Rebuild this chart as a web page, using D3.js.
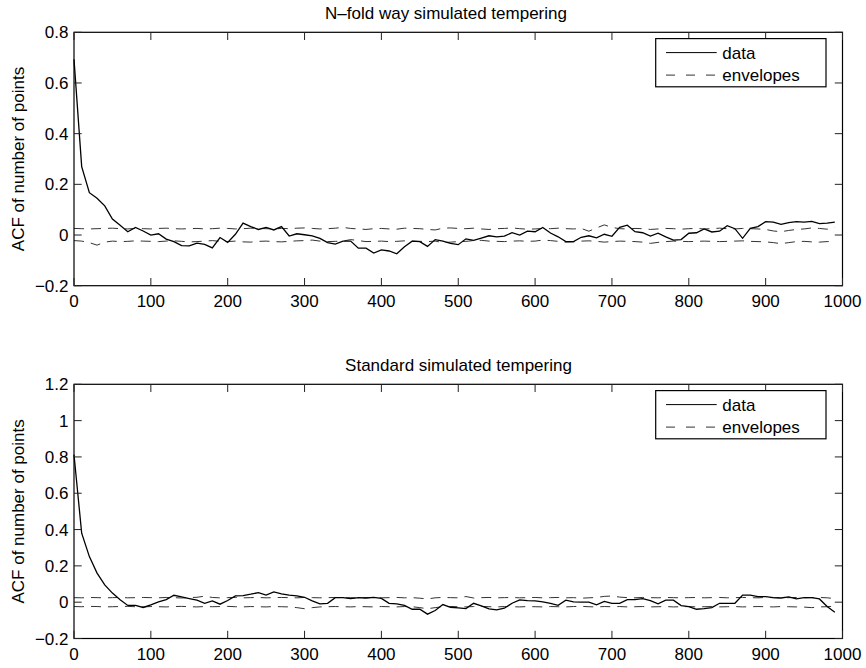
<!DOCTYPE html>
<html><head><meta charset="utf-8">
<script src="https://cdn.jsdelivr.net/npm/d3@7"></script>
<style>
body{margin:0;background:#fff;}
svg text{font-family:"Liberation Sans",Arial,Helvetica,sans-serif;font-size:17px;fill:#000;}
</style></head>
<body><svg id="c" width="866" height="668"></svg>
<script>
// ---- data (lags 0..990, step 10) ----
const lags = d3.range(0, 1000, 10);
const xTicks = [0,100,200,300,400,500,600,700,800,900,1000];
const yTicksTop = [-0.2,0,0.2,0.4,0.6,0.8];
const yTicksBottom = [-0.2,0,0.2,0.4,0.6,0.8,1,1.2];
const titles = ["N\u2013fold way simulated tempering","Standard simulated tempering"];
const yLabel = "ACF of number of points";
const legendLabels = ["data","envelopes"];

const dataTop = [0.693,0.270,0.167,0.145,0.115,0.063,0.039,0.013,0.030,0.016,
 0.000,0.005,-0.016,-0.026,-0.042,-0.043,-0.032,-0.037,-0.051,-0.010,
 -0.029,0.003,0.047,0.033,0.022,0.030,0.020,0.033,-0.004,0.005,
 0.001,-0.003,-0.013,-0.030,-0.036,-0.024,-0.024,-0.052,-0.052,-0.071,
 -0.059,-0.063,-0.074,-0.046,-0.024,-0.026,-0.045,-0.018,-0.024,-0.033,
 -0.038,-0.015,-0.021,-0.012,-0.003,-0.007,-0.004,0.009,0.000,0.015,
 0.013,0.030,0.008,-0.007,-0.026,-0.026,-0.009,-0.003,-0.011,0.003,
 -0.005,0.030,0.039,0.013,0.009,-0.004,0.007,-0.007,-0.020,-0.018,
 0.007,0.009,0.024,0.012,0.015,0.037,0.025,-0.013,0.026,0.033,
 0.053,0.051,0.042,0.049,0.053,0.051,0.054,0.045,0.047,0.051];
const envUpTop = [0.026,0.025,0.024,0.025,0.026,0.027,0.025,0.024,0.026,0.025,
 0.024,0.026,0.027,0.025,0.024,0.025,0.026,0.024,0.025,0.027,
 0.026,0.024,0.025,0.027,0.026,0.025,0.024,0.026,0.025,0.027,
 0.028,0.026,0.024,0.025,0.027,0.030,0.026,0.024,0.022,0.025,
 0.026,0.024,0.023,0.027,0.026,0.025,0.022,0.020,0.027,0.028,
 0.026,0.025,0.027,0.024,0.022,0.025,0.026,0.028,0.025,0.023,
 0.024,0.026,0.025,0.027,0.025,0.024,0.026,0.015,0.028,0.040,
 0.030,0.025,0.024,0.026,0.025,0.022,0.024,0.026,0.025,0.023,
 0.025,0.026,0.024,0.025,0.027,0.025,0.024,0.026,0.025,0.024,
 0.022,0.016,0.013,0.018,0.022,0.024,0.028,0.026,0.023,0.030];
const envLoTop = [-0.022,-0.024,-0.030,-0.040,-0.028,-0.024,-0.026,-0.025,-0.023,-0.024,
 -0.025,-0.026,-0.024,-0.023,-0.025,-0.027,-0.026,-0.024,-0.022,-0.025,
 -0.026,-0.024,-0.027,-0.028,-0.025,-0.024,-0.026,-0.027,-0.025,-0.023,
 -0.022,-0.020,-0.024,-0.026,-0.025,-0.024,-0.018,-0.022,-0.026,-0.025,
 -0.024,-0.026,-0.025,-0.023,-0.024,-0.025,-0.026,-0.024,-0.030,-0.028,
 -0.026,-0.025,-0.022,-0.021,-0.024,-0.025,-0.026,-0.024,-0.023,-0.025,
 -0.024,-0.020,-0.022,-0.025,-0.028,-0.027,-0.024,-0.023,-0.025,-0.028,
 -0.026,-0.024,-0.025,-0.026,-0.028,-0.033,-0.029,-0.026,-0.024,-0.025,
 -0.026,-0.025,-0.024,-0.025,-0.026,-0.025,-0.024,-0.023,-0.025,-0.026,
 -0.027,-0.030,-0.034,-0.030,-0.026,-0.025,-0.027,-0.028,-0.026,-0.025];

const dataBottom = [0.812,0.380,0.251,0.160,0.095,0.050,0.013,-0.018,-0.018,-0.029,
 -0.015,0.002,0.014,0.038,0.029,0.020,0.011,-0.006,0.007,-0.011,
 0.009,0.035,0.036,0.044,0.053,0.039,0.057,0.046,0.039,0.035,
 0.027,0.007,-0.009,-0.006,0.025,0.025,0.020,0.025,0.023,0.027,
 0.021,-0.006,-0.009,-0.018,-0.039,-0.039,-0.066,-0.046,-0.013,-0.028,
 -0.031,-0.035,-0.006,-0.020,-0.037,-0.042,-0.033,-0.006,0.013,0.009,
 0.007,0.002,-0.006,-0.017,0.011,0.002,0.000,0.000,-0.015,0.004,
 -0.006,-0.006,0.014,0.014,0.020,0.009,-0.009,0.011,0.011,-0.019,
 -0.024,-0.039,-0.035,-0.030,-0.006,-0.006,-0.006,0.039,0.039,0.031,
 0.031,0.025,0.023,0.029,0.018,0.025,0.025,0.018,-0.024,-0.055];
const envUpBottom = [0.025,0.024,0.026,0.025,0.024,0.025,0.026,0.024,0.025,0.026,
 0.025,0.024,0.026,0.025,0.023,0.025,0.027,0.033,0.026,0.024,
 0.025,0.026,0.024,0.025,0.026,0.024,0.025,0.026,0.025,0.024,
 0.026,0.025,0.024,0.025,0.026,0.024,0.025,0.023,0.025,0.026,
 0.024,0.025,0.026,0.024,0.025,0.022,0.018,0.024,0.026,0.025,
 0.024,0.031,0.023,0.025,0.026,0.024,0.025,0.026,0.024,0.025,
 0.026,0.024,0.025,0.026,0.024,0.025,0.022,0.024,0.026,0.032,
 0.034,0.028,0.025,0.024,0.026,0.025,0.024,0.026,0.025,0.024,
 0.025,0.026,0.024,0.025,0.026,0.024,0.025,0.026,0.025,0.024,
 0.026,0.025,0.024,0.025,0.026,0.024,0.025,0.026,0.024,0.020];
const envLoBottom = [-0.024,-0.025,-0.023,-0.024,-0.026,-0.025,-0.024,-0.023,-0.025,-0.026,
 -0.024,-0.025,-0.026,-0.024,-0.023,-0.025,-0.026,-0.024,-0.025,-0.024,
 -0.023,-0.025,-0.026,-0.024,-0.025,-0.026,-0.024,-0.025,-0.026,-0.030,
 -0.036,-0.030,-0.026,-0.025,-0.024,-0.025,-0.026,-0.024,-0.025,-0.026,
 -0.024,-0.025,-0.026,-0.024,-0.025,-0.030,-0.036,-0.030,-0.025,-0.024,
 -0.025,-0.026,-0.024,-0.023,-0.025,-0.026,-0.024,-0.025,-0.026,-0.024,
 -0.025,-0.026,-0.024,-0.025,-0.026,-0.024,-0.023,-0.025,-0.026,-0.024,
 -0.025,-0.024,-0.026,-0.025,-0.024,-0.026,-0.025,-0.024,-0.026,-0.025,
 -0.024,-0.026,-0.025,-0.024,-0.026,-0.025,-0.024,-0.026,-0.025,-0.024,
 -0.025,-0.026,-0.024,-0.025,-0.026,-0.027,-0.030,-0.026,-0.025,-0.022];

// ---- drawing ----
const svg = d3.select("#c");
const L = 74, R = 842.5, TL = 7.7;
const fmt = v => (v < 0 ? "\u2212" : "") + d3.format("~g")(Math.abs(v));

function panel(top, bottom, yDomain, yTicks, title, titleX, data, up, lo) {
  const x = d3.scaleLinear().domain([0,1000]).range([L,R]);
  const y = d3.scaleLinear().domain(yDomain).range([bottom,top]);
  const g = svg.append("g");
  const line = d3.line().x((d,i)=>x(lags[i])).y(d=>y(d));

  // envelopes
  [up, lo].forEach(arr => g.append("path").attr("d", line(arr))
    .attr("fill","none").attr("stroke","#333").attr("stroke-width",1)
    .attr("stroke-dasharray","10,7"));
  // data
  g.append("path").attr("d", line(data)).attr("fill","none")
    .attr("stroke","#000").attr("stroke-width",1.3);

  // box
  g.append("rect").attr("x",L).attr("y",top).attr("width",R-L).attr("height",bottom-top)
    .attr("fill","none").attr("stroke","#000").attr("stroke-width",1.2);

  // ticks inward on all four sides
  xTicks.forEach(t => {
    const xx = x(t);
    g.append("line").attr("x1",xx).attr("x2",xx).attr("y1",bottom).attr("y2",bottom-TL).attr("stroke","#222");
    g.append("line").attr("x1",xx).attr("x2",xx).attr("y1",top).attr("y2",top+TL).attr("stroke","#222");
    g.append("text").attr("x",xx).attr("y",bottom+21).attr("text-anchor","middle").text(fmt(t));
  });
  yTicks.forEach(t => {
    const yy = y(t);
    g.append("line").attr("x1",L).attr("x2",L+TL).attr("y1",yy).attr("y2",yy).attr("stroke","#222");
    g.append("line").attr("x1",R).attr("x2",R-TL).attr("y1",yy).attr("y2",yy).attr("stroke","#222");
    g.append("text").attr("x",68.5).attr("y",yy+6).attr("text-anchor","end").text(fmt(t));
  });

  // title
  g.append("text").attr("x",titleX).attr("y",top-13).attr("text-anchor","middle").text(title);
  // y label
  g.append("text").attr("transform",`translate(24,${(top+bottom)/2}) rotate(-90)`)
    .attr("text-anchor","middle").text(yLabel);

  // legend
  const lx0 = 655.7, lx1 = 826, ly0 = top+6.3, ly1 = top+54.5;
  g.append("rect").attr("x",lx0).attr("y",ly0).attr("width",lx1-lx0).attr("height",ly1-ly0)
    .attr("fill","#fff").attr("stroke","#000").attr("stroke-width",1.2);
  const rows = [ly0+14, ly0+36.5];
  g.append("line").attr("x1",666).attr("x2",716.7).attr("y1",rows[0]).attr("y2",rows[0])
    .attr("stroke","#000").attr("stroke-width",1);
  g.append("line").attr("x1",666).attr("x2",716.7).attr("y1",rows[1]).attr("y2",rows[1])
    .attr("stroke","#333").attr("stroke-width",1).attr("stroke-dasharray","9,11");
  legendLabels.forEach((s,i)=> g.append("text").attr("x",722.3).attr("y",rows[i]+6).text(s));
}

panel(32.3, 285.7, [-0.2,0.8], yTicksTop, titles[0], 446, dataTop, envUpTop, envLoTop);
panel(384.3, 638.5, [-0.2,1.2], yTicksBottom, titles[1], 458.5, dataBottom, envUpBottom, envLoBottom);
</script></body></html>
